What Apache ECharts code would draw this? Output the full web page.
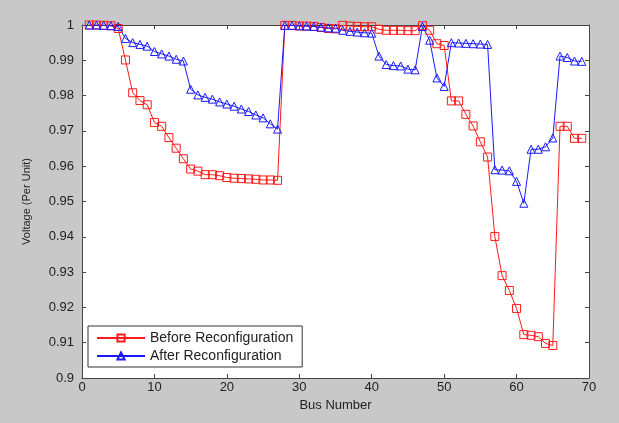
<!DOCTYPE html>
<html>
<head>
<meta charset="utf-8">
<script src="https://cdn.jsdelivr.net/npm/echarts@6/dist/echarts.min.js"></script>
<style>
html,body{margin:0;padding:0;background:#c8c8c8;}
#chart{width:619px;height:423px;}
</style>
</head>
<body>
<div id="chart"></div>
<script>
const buses = [];
for (let i = 1; i <= 69; i++) buses.push(i);

const beforeValues = [
  1.0000, 1.0000, 0.9999, 0.9998, 0.9990, 0.9901, 0.9808, 0.9786, 0.9774, 0.9724,
  0.9713, 0.9681, 0.9651, 0.9621, 0.9592, 0.9586, 0.9576, 0.9576, 0.9573, 0.9568,
  0.9566, 0.9565, 0.9564, 0.9563, 0.9561, 0.9561, 0.9560, 0.9999, 0.9999, 0.9997,
  0.9997, 0.9996, 0.9993, 0.9990, 0.9989, 0.9999, 0.9997, 0.9996, 0.9995, 0.9995,
  0.9988, 0.9985, 0.9985, 0.9985, 0.9984, 0.9984, 0.9998, 0.9985, 0.9947, 0.9942,
  0.9785, 0.9785, 0.9747, 0.9714, 0.9669, 0.9626, 0.9401, 0.9290, 0.9248, 0.9197,
  0.9123, 0.9121, 0.9117, 0.9098, 0.9092, 0.9713, 0.9713, 0.9679, 0.9679
];

const afterValues = [
  1.0000, 1.0000, 0.9999, 0.9998, 0.9996, 0.9962, 0.9950, 0.9945, 0.9940, 0.9925,
  0.9918, 0.9912, 0.9903, 0.9898, 0.9818, 0.9802, 0.9795, 0.9790, 0.9782, 0.9776,
  0.9770, 0.9762, 0.9755, 0.9745, 0.9737, 0.9720, 0.9705, 0.9999, 0.9999, 0.9998,
  0.9997, 0.9996, 0.9994, 0.9992, 0.9991, 0.9985, 0.9982, 0.9980, 0.9978, 0.9977,
  0.9912, 0.9888, 0.9885, 0.9884, 0.9875, 0.9873, 0.9996, 0.9957, 0.9850, 0.9826,
  0.9950, 0.9949, 0.9948, 0.9947, 0.9946, 0.9945, 0.9590, 0.9589, 0.9587, 0.9557,
  0.9495, 0.9648, 0.9648, 0.9655, 0.9680, 0.9912, 0.9908, 0.9898, 0.9897
];

const seriesNames = ['Before Reconfiguration', 'After Reconfiguration'];
const xTitle = 'Bus Number';
const yTitle = 'Voltage (Per Unit)';

const font = 'Liberation Sans, Arial, sans-serif';
const axisColor = '#444';

function pairs(vals) { return buses.map((b, i) => [b, vals[i]]); }
function fmtY(v) { return String(parseFloat(v.toFixed(2))); }

const chart = echarts.init(document.getElementById('chart'), null, {renderer: 'canvas'});
const commonAxis = {
  axisLine: {show: true, onZero: false, lineStyle: {color: axisColor, width: 1}},
  axisTick: {show: true, inside: true, length: 4, lineStyle: {color: axisColor}},
  splitLine: {show: false}
};
chart.setOption({
  backgroundColor: '#c8c8c8',
  animation: false,
  grid: {left: 82, right: 30, top: 25, bottom: 45, show: true, backgroundColor: '#ffffff', borderWidth: 0},
  legend: {
    orient: 'vertical', left: 88, top: 326,
    backgroundColor: '#ffffff', borderColor: '#333', borderWidth: 1,
    padding: [5, 9, 4, 8], itemGap: 4, itemWidth: 48, itemHeight: 9,
    textStyle: {fontFamily: font, fontSize: 14, color: '#222'},
    data: seriesNames
  },
  xAxis: [
    Object.assign({}, commonAxis, {
      type: 'value', min: 0, max: 70, interval: 10, position: 'bottom',
      name: xTitle, nameLocation: 'middle', nameGap: 16,
      nameTextStyle: {fontFamily: font, fontSize: 13, color: '#222'},
      axisLabel: {fontFamily: font, fontSize: 13, color: '#222', margin: 3}
    }),
    Object.assign({}, commonAxis, {
      type: 'value', min: 0, max: 70, interval: 10, position: 'top',
      axisLabel: {show: false}
    })
  ],
  yAxis: [
    Object.assign({}, commonAxis, {
      type: 'value', min: 0.9, max: 1, interval: 0.01, position: 'left',
      name: yTitle, nameLocation: 'middle', nameGap: 50,
      nameTextStyle: {fontFamily: font, fontSize: 11, color: '#222'},
      axisLabel: {fontFamily: font, fontSize: 13, color: '#222', margin: 8, formatter: fmtY}
    }),
    Object.assign({}, commonAxis, {
      type: 'value', min: 0.9, max: 1, interval: 0.01, position: 'right',
      axisLabel: {show: false}
    })
  ],
  series: [
    {
      name: seriesNames[0], type: 'line', xAxisIndex: 0, yAxisIndex: 0,
      data: pairs(beforeValues),
      symbol: 'rect', symbolSize: 8,
      lineStyle: {color: '#ff1a1a', width: 1},
      itemStyle: {color: 'rgba(255,255,255,0)', borderColor: '#ff1a1a', borderWidth: 1},
      color: '#ff1a1a'
    },
    {
      name: seriesNames[1], type: 'line', xAxisIndex: 0, yAxisIndex: 0,
      data: pairs(afterValues),
      symbol: 'triangle', symbolSize: 8,
      lineStyle: {color: '#1a1aff', width: 1},
      itemStyle: {color: 'rgba(255,255,255,0)', borderColor: '#1a1aff', borderWidth: 1},
      color: '#1a1aff'
    }
  ]
});
</script>
</body>
</html>
